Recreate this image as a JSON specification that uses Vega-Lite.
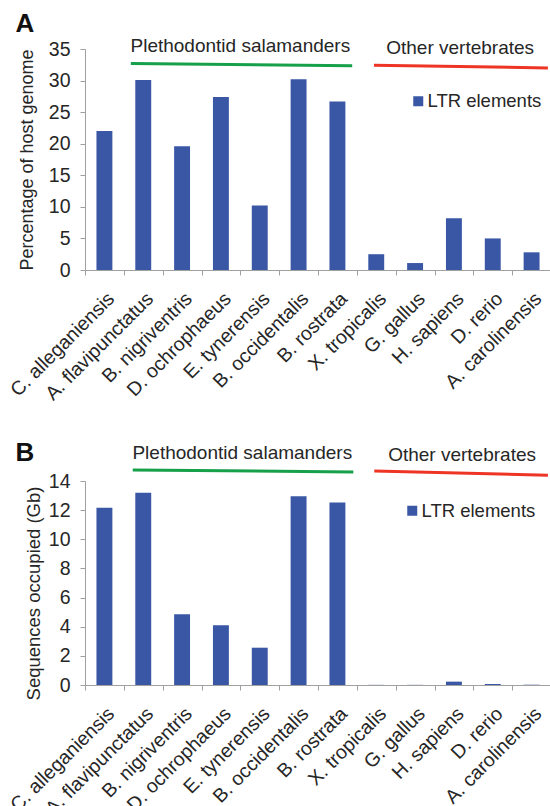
{
  "$schema": "https://vega.github.io/schema/vega-lite/v6.json",
  "padding": {"left": 6, "top": 10, "right": 0, "bottom": 0},
  "spacing": 36,
  "resolve": {"scale": {"color": "independent"}, "legend": {"color": "independent"}},
  "config": {
    "view": {"stroke": null},
    "font": "Liberation Sans",
    "axis": {"domainColor": "#a0a0a0", "tickColor": "#a0a0a0", "labelColor": "#262626", "titleColor": "#262626", "labelFont": "Liberation Sans", "titleFont": "Liberation Sans", "grid": false, "tickSize": 5, "titleFontWeight": "normal", "labelOverlap": false},
    "legend": {"labelFont": "Liberation Sans"}
  },
  "datasets": {
    "pct": [
      {"species": "C. alleganiensis", "value": 22.0},
      {"species": "A. flavipunctatus", "value": 30.1},
      {"species": "B. nigriventris", "value": 19.6},
      {"species": "D. ochrophaeus", "value": 27.4},
      {"species": "E. tynerensis", "value": 10.2},
      {"species": "B. occidentalis", "value": 30.2},
      {"species": "B. rostrata", "value": 26.7},
      {"species": "X. tropicalis", "value": 2.5},
      {"species": "G. gallus", "value": 1.1},
      {"species": "H. sapiens", "value": 8.2},
      {"species": "D. rerio", "value": 5.0},
      {"species": "A. carolinensis", "value": 2.8}
    ],
    "gb": [
      {"species": "C. alleganiensis", "value": 12.17},
      {"species": "A. flavipunctatus", "value": 13.2},
      {"species": "B. nigriventris", "value": 4.85},
      {"species": "D. ochrophaeus", "value": 4.1},
      {"species": "E. tynerensis", "value": 2.56},
      {"species": "B. occidentalis", "value": 12.96},
      {"species": "B. rostrata", "value": 12.53},
      {"species": "X. tropicalis", "value": 0.01},
      {"species": "G. gallus", "value": 0.01},
      {"species": "H. sapiens", "value": 0.23},
      {"species": "D. rerio", "value": 0.07},
      {"species": "A. carolinensis", "value": 0.02}
    ],
    "one": [{}]
  },
  "vconcat": [
    {
      "width": 466,
      "height": 221,
      "resolve": {"scale": {"x": "independent", "y": "independent"}, "axis": {"y": "independent"}},
      "layer": [
        {
          "data": {"name": "pct"},
          "mark": {"type": "bar", "width": {"band": 0.41}},
          "encoding": {
            "x": {"field": "species", "type": "nominal", "sort": null, "title": null,
                  "scale": {"paddingInner": 0, "paddingOuter": 0},
                  "axis": {"labelAngle": -45, "labelFontSize": 19.5, "tickBand": "extent", "labelPadding": 14}},
            "y": {"field": "value", "type": "quantitative", "scale": {"domain": [0, 35], "nice": false},
                  "axis": {"values": [0, 5, 10, 15, 20, 25, 30, 35], "title": "Percentage of host genome", "labelFontSize": 19.5, "labelPadding": 10, "titleFontSize": 18, "titlePadding": 12}},
            "color": {"datum": "LTR elements", "scale": {"range": ["#3A57A6"]},
                      "legend": {"title": null, "orient": "none", "legendX": 324, "legendY": 43, "symbolType": "square", "symbolSize": 100, "labelFontSize": 18.5, "labelColor": "#262626", "symbolStrokeWidth": 0, "padding": 0, "labelOffset": 0}}
          }
        },
        {
          "data": {"name": "one"},
          "layer": [
            {"mark": {"type": "rule", "color": "#17A04A", "strokeWidth": 3},
             "encoding": {"x": {"datum": 1.18, "type": "quantitative", "scale": {"domain": [0, 12], "nice": false, "zero": false}, "axis": null},
                          "x2": {"datum": 6.88}, "y": {"datum": 32.7, "type": "quantitative", "scale": {"domain": [0, 35], "nice": false}, "axis": null}, "y2": {"datum": 32.34}}},
            {"mark": {"type": "rule", "color": "#EE3425", "strokeWidth": 3},
             "encoding": {"x": {"datum": 7.44, "type": "quantitative", "axis": null}, "x2": {"datum": 11.92}, "y": {"datum": 32.42, "type": "quantitative", "axis": null}, "y2": {"datum": 32.0}}},
            {"mark": {"type": "text", "fontSize": 19, "color": "#262626", "align": "center", "baseline": "alphabetic"},
             "encoding": {"x": {"datum": 4.0, "type": "quantitative", "axis": null}, "y": {"datum": 34.5, "type": "quantitative", "axis": null}, "text": {"value": "Plethodontid salamanders"}}},
            {"mark": {"type": "text", "fontSize": 19, "color": "#262626", "align": "center", "baseline": "alphabetic"},
             "encoding": {"x": {"datum": 9.66, "type": "quantitative", "axis": null}, "y": {"datum": 34.2, "type": "quantitative", "axis": null}, "text": {"value": "Other vertebrates"}}},
            {"mark": {"type": "text", "fontSize": 26, "fontWeight": "bold", "color": "#111111", "align": "center", "baseline": "alphabetic"},
             "encoding": {"x": {"datum": -1.545, "type": "quantitative", "axis": null}, "y": {"datum": 37.7, "type": "quantitative", "axis": null}, "text": {"value": "A"}}}
          ]
        }
      ]
    },
    {
      "width": 466,
      "height": 204,
      "resolve": {"scale": {"x": "independent", "y": "independent"}, "axis": {"y": "independent"}},
      "layer": [
        {
          "data": {"name": "gb"},
          "mark": {"type": "bar", "width": {"band": 0.41}},
          "encoding": {
            "x": {"field": "species", "type": "nominal", "sort": null, "title": null,
                  "scale": {"paddingInner": 0, "paddingOuter": 0},
                  "axis": {"labelAngle": -45, "labelFontSize": 19.5, "tickBand": "extent", "labelPadding": 14}},
            "y": {"field": "value", "type": "quantitative", "scale": {"domain": [0, 14], "nice": false},
                  "axis": {"values": [0, 2, 4, 6, 8, 10, 12, 14], "title": "Sequences occupied (Gb)", "labelFontSize": 19.5, "labelPadding": 10, "titleFontSize": 18.5, "titlePadding": 5, "titleY": 112}},
            "color": {"datum": "LTR elements", "scale": {"range": ["#3A57A6"]},
                      "legend": {"title": null, "orient": "none", "legendX": 318, "legendY": 20.5, "symbolType": "square", "symbolSize": 100, "labelFontSize": 18.5, "labelColor": "#262626", "symbolStrokeWidth": 0, "padding": 0, "labelOffset": 0}}
          }
        },
        {
          "data": {"name": "one"},
          "layer": [
            {"mark": {"type": "rule", "color": "#17A04A", "strokeWidth": 3},
             "encoding": {"x": {"datum": 1.23, "type": "quantitative", "scale": {"domain": [0, 12], "nice": false, "zero": false}, "axis": null},
                          "x2": {"datum": 6.91}, "y": {"datum": 14.76, "type": "quantitative", "scale": {"domain": [0, 14], "nice": false}, "axis": null}, "y2": {"datum": 14.62}}},
            {"mark": {"type": "rule", "color": "#EE3425", "strokeWidth": 3},
             "encoding": {"x": {"datum": 7.45, "type": "quantitative", "axis": null}, "x2": {"datum": 11.92}, "y": {"datum": 14.68, "type": "quantitative", "axis": null}, "y2": {"datum": 14.4}}},
            {"mark": {"type": "text", "fontSize": 19, "color": "#262626", "align": "center", "baseline": "alphabetic"},
             "encoding": {"x": {"datum": 4.05, "type": "quantitative", "axis": null}, "y": {"datum": 15.48, "type": "quantitative", "axis": null}, "text": {"value": "Plethodontid salamanders"}}},
            {"mark": {"type": "text", "fontSize": 19, "color": "#262626", "align": "center", "baseline": "alphabetic"},
             "encoding": {"x": {"datum": 9.71, "type": "quantitative", "axis": null}, "y": {"datum": 15.37, "type": "quantitative", "axis": null}, "text": {"value": "Other vertebrates"}}},
            {"mark": {"type": "text", "fontSize": 26, "fontWeight": "bold", "color": "#111111", "align": "center", "baseline": "alphabetic"},
             "encoding": {"x": {"datum": -1.545, "type": "quantitative", "axis": null}, "y": {"datum": 15.35, "type": "quantitative", "axis": null}, "text": {"value": "B"}}}
          ]
        }
      ]
    }
  ]
}
